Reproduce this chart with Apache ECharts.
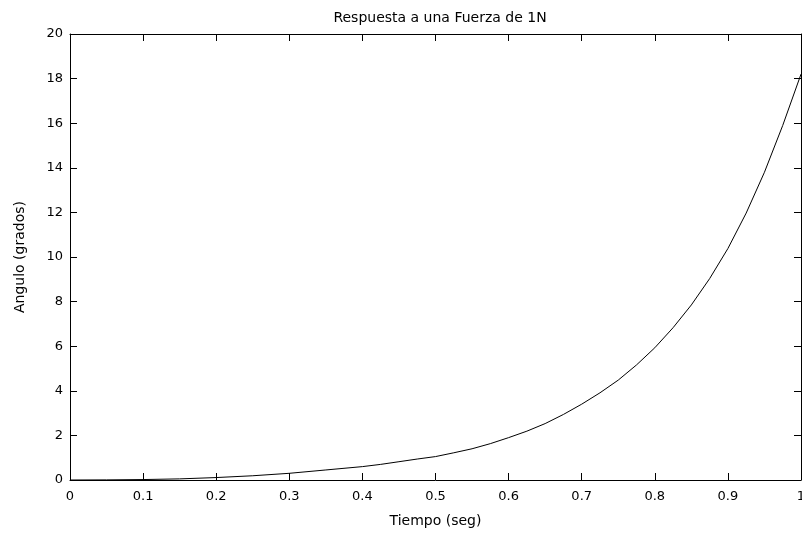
<!DOCTYPE html>
<html>
<head>
<meta charset="utf-8">
<script src="https://cdn.jsdelivr.net/npm/echarts@6/dist/echarts.min.js"></script>
<style>html,body{margin:0;padding:0;background:#fff}#c{width:802px;height:535px}</style>
</head>
<body>
<div id="c"></div>
<script>
var tiempo = [0, 0.05, 0.1, 0.15, 0.2, 0.25, 0.3, 0.35, 0.4, 0.425, 0.45, 0.475, 0.5, 0.525, 0.55, 0.575, 0.6, 0.625, 0.65, 0.675, 0.7, 0.725, 0.75, 0.775, 0.8, 0.825, 0.85, 0.875, 0.9, 0.925, 0.95, 0.975, 1.0];
var angulo = [0, 0.005, 0.02, 0.05, 0.11, 0.19, 0.30, 0.45, 0.60, 0.70, 0.82, 0.94, 1.05, 1.22, 1.40, 1.63, 1.90, 2.19, 2.53, 2.94, 3.40, 3.91, 4.48, 5.16, 5.93, 6.83, 7.85, 9.03, 10.38, 11.97, 13.80, 15.90, 18.20];
var xTicks = ['0', '0.1', '0.2', '0.3', '0.4', '0.5', '0.6', '0.7', '0.8', '0.9', '1'];
var yTicks = ['0', '2', '4', '6', '8', '10', '12', '14', '16', '18', '20'];

var pts = tiempo.map(function (t, i) { return [t, angulo[i]]; });
var font = 'DejaVu Sans, Liberation Sans, sans-serif';
var chart = echarts.init(document.getElementById('c'), null, { renderer: 'canvas' });
function axisBase() {
  return {
    axisLine: { show: true, onZero: false, lineStyle: { color: '#000', width: 1 } },
    axisTick: { show: true, inside: true, length: 7, lineStyle: { color: '#000', width: 1 } },
    splitLine: { show: false }
  };
}
chart.setOption({
  animation: false,
  backgroundColor: '#fff',
  title: {
    text: 'Respuesta a una Fuerza de 1N',
    left: 435, top: 6, textAlign: 'center',
    textStyle: { fontFamily: font, fontSize: 14, fontWeight: 'normal', color: '#000' }
  },
  grid: { left: 70, right: 1, top: 34, bottom: 55, containLabel: false, outerBoundsMode: 'none' },
  xAxis: [
    Object.assign(axisBase(), {
      type: 'value', min: 0, max: 1, interval: 0.1, position: 'bottom',
      name: 'Tiempo (seg)', nameLocation: 'middle', nameGap: 34,
      nameTextStyle: { fontFamily: font, fontSize: 14, color: '#000' },
      axisLabel: { margin: 10, fontFamily: font, fontSize: 13, color: '#000',
        formatter: function (v) { return xTicks[Math.round(v * 10)]; } }
    }),
    Object.assign(axisBase(), {
      type: 'value', min: 0, max: 1, interval: 0.1, position: 'top',
      axisLabel: { show: false }
    })
  ],
  yAxis: [
    Object.assign(axisBase(), {
      type: 'value', min: 0, max: 20, interval: 2, position: 'left',
      name: 'Angulo (grados)', nameLocation: 'middle', nameGap: 43,
      nameTextStyle: { fontFamily: font, fontSize: 14, color: '#000' },
      axisLabel: { margin: 7, fontFamily: font, fontSize: 13, color: '#000',
        formatter: function (v) { return yTicks[Math.round(v / 2)]; } }
    }),
    Object.assign(axisBase(), {
      type: 'value', min: 0, max: 20, interval: 2, position: 'right',
      axisLabel: { show: false }
    })
  ],
  series: [{
    type: 'line', data: pts, xAxisIndex: 0, yAxisIndex: 0,
    smooth: false, showSymbol: false, symbol: 'none',
    lineStyle: { color: '#000', width: 1 }
  }, {
    type: 'line', data: [], xAxisIndex: 1, yAxisIndex: 1, showSymbol: false
  }]
});
</script>
</body>
</html>
